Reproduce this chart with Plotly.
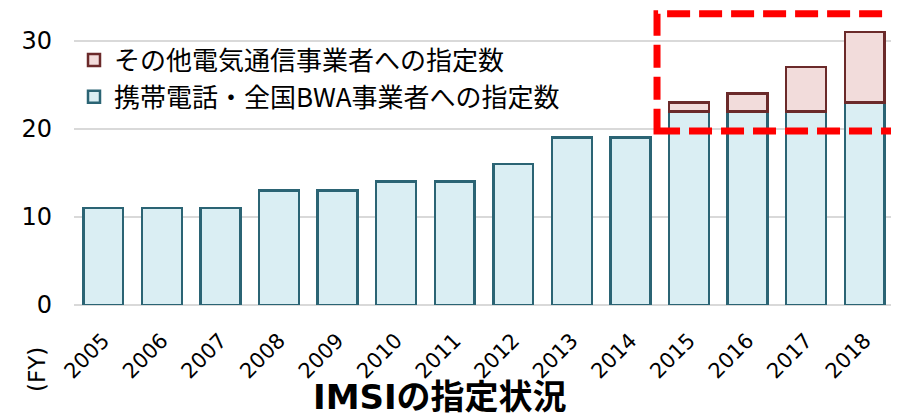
import plotly.graph_objects as go

years = ["2005", "2006", "2007", "2008", "2009", "2010", "2011", "2012",
         "2013", "2014", "2015", "2016", "2017", "2018"]
mobile_bwa = [11, 11, 11, 13, 13, 14, 14, 16, 19, 19, 22, 22, 22, 23]
other_carriers = [0, 0, 0, 0, 0, 0, 0, 0, 0, 0, 1, 2, 5, 8]
name_mobile = "携帯電話・全国BWA事業者への指定数"
name_other = "その他電気通信事業者への指定数"
y_ticks = [0, 10, 20, 30]

FONT = "DejaVu Sans, Noto Sans CJK JP, sans-serif"

fig = go.Figure()
fig.add_trace(go.Bar(
    x=years, y=mobile_bwa, name=name_mobile, legendgroup="a",
    marker=dict(color="#DAEEF3", line=dict(color="#2B6474", width=2.5)),
))
fig.add_trace(go.Bar(
    x=years, y=[v if v > 0 else None for v in other_carriers], name=name_other,
    legendgroup="b",
    marker=dict(color="#F2DCDB", line=dict(color="#6B2A2A", width=2.5)),
))

fig.update_layout(
    width=899, height=420,
    margin=dict(l=66, r=13, t=2, b=123, autoexpand=False),
    barmode="stack", bargap=0.32,
    plot_bgcolor="white", paper_bgcolor="white",
    font=dict(family=FONT, color="#000000"),
    showlegend=True,
    legend=dict(
        x=0.0, y=0.91, xanchor="left", yanchor="top",
        traceorder="reversed", tracegroupgap=2,
        font=dict(size=26, family="Noto Sans CJK JP, DejaVu Sans, sans-serif"),
        bgcolor="rgba(255,255,255,0)",
        itemwidth=30,
    ),
    xaxis=dict(
        type="category", automargin=False,
        tickangle=-45,
        tickfont=dict(size=21, family=FONT),
        showgrid=False, showline=False, ticks="",
        ticklabelstandoff=18,
    ),
    yaxis=dict(
        range=[0, 33.5], automargin=False,
        tickvals=y_ticks,
        tickfont=dict(size=24, family=FONT),
        showgrid=True, gridcolor="#D9D9D9", gridwidth=1.5,
        zeroline=True, zerolinecolor="#D9D9D9", zerolinewidth=1.5,
        showline=False, ticks="",
        ticklabelstandoff=21,
    ),
)

fig.add_shape(
    type="rect", xref="paper", yref="y",
    x0=0.711, x1=1.05, y0=19.77, y1=33.07,
    line=dict(color="#FF0000", width=7, dash="23px,9px"),
    fillcolor="rgba(0,0,0,0)",
)

fig.add_annotation(
    text="<b>IMSIの指定状況</b>", xref="paper", yref="paper",
    x=0.446, y=-0.386, xanchor="center", yanchor="bottom",
    showarrow=False, font=dict(size=34, family="DejaVu Sans, Noto Sans CJK JP, sans-serif"),
)
fig.add_annotation(
    text="(FY)", xref="paper", yref="paper",
    x=-0.045, y=-0.22, xanchor="center", yanchor="middle",
    textangle=-90, showarrow=False, font=dict(size=23, family=FONT),
)

fig.write_html("out.html")
